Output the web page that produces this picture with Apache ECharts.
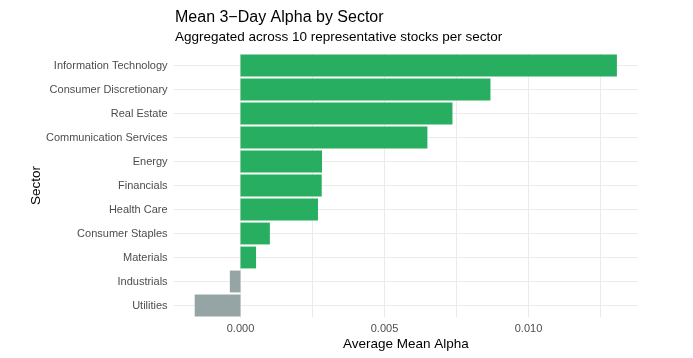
<!DOCTYPE html>
<html>
<head>
<meta charset="utf-8">
<script src="https://cdn.jsdelivr.net/npm/echarts@6/dist/echarts.min.js"></script>
<style>
  html, body { margin: 0; padding: 0; background: #ffffff; }
  #chart { width: 693px; height: 358px; }
</style>
</head>
<body>
<div id="chart"></div>
<script>
const sectors = [
  "Information Technology",
  "Consumer Discretionary",
  "Real Estate",
  "Communication Services",
  "Energy",
  "Financials",
  "Health Care",
  "Consumer Staples",
  "Materials",
  "Industrials",
  "Utilities"
];
const meanAlpha = [0.01307, 0.00868, 0.00736, 0.00649, 0.00283, 0.00282, 0.00269, 0.00102, 0.00054, -0.00037, -0.00159];
const majorTicks = [0, 0.005, 0.010];
const minorTicks = [0.0025, 0.0075, 0.0125];

const titleText = "Mean 3\u2212Day Alpha by Sector";
const subtitleText = "Aggregated across 10 representative stocks per sector";
const xTitle = "Average Mean Alpha";
const yTitle = "Sector";

const posColor = "#27AE60";
const negColor = "#95A5A6";
const gridColor = "#EBEBEB";
const FONT = "Liberation Sans, Arial, Helvetica, sans-serif";

const dMin = Math.min(0, ...meanAlpha), dMax = Math.max(0, ...meanAlpha);
const pad = (dMax - dMin) * 0.05;
const xMin = dMin - pad, xMax = dMax + pad;

const chart = echarts.init(document.getElementById('chart'), null, { renderer: 'canvas' });

const vLines = [];
majorTicks.forEach(v => vLines.push({ xAxis: v }));
minorTicks.forEach(v => vLines.push({ xAxis: v }));
const hLines = sectors.map(s => ({ yAxis: s }));

chart.setOption({
  animation: false,
  backgroundColor: '#ffffff',
  textStyle: { fontFamily: FONT },
  title: [
    { text: titleText, left: 175, top: 10, padding: 0, textStyle: { fontFamily: FONT, fontSize: 16, fontWeight: 'normal', color: '#000000' } },
    { text: subtitleText, left: 175, top: 30, padding: 0, textStyle: { fontFamily: FONT, fontSize: 13.5, fontWeight: 'normal', color: '#000000' } }
  ],
  grid: { left: 173.6, width: 464.4, top: 53.5, height: 264, containLabel: false },
  xAxis: {
    type: 'value',
    min: xMin,
    max: xMax,
    splitNumber: 3,
    axisLine: { show: false },
    axisTick: { show: false },
    splitLine: { show: false },
    axisLabel: {
      showMinLabel: false,
      showMaxLabel: false,
      color: '#4D4D4D',
      fontSize: 11,
      fontFamily: FONT,
      margin: 6,
      formatter: v => (Math.abs(v) < 1e-12 ? 0 : v).toFixed(3)
    },
    name: xTitle,
    nameLocation: 'middle',
    nameGap: 20,
    nameMoveOverlap: false,
    nameTextStyle: { color: '#000000', fontSize: 13.5, fontFamily: FONT }
  },
  yAxis: {
    type: 'category',
    data: sectors,
    inverse: true,
    axisLine: { show: false },
    axisTick: { show: false },
    splitLine: { show: false },
    axisLabel: { color: '#4D4D4D', fontSize: 11, fontFamily: FONT, margin: 6 },
    name: yTitle,
    nameLocation: 'middle',
    nameRotate: 90,
    nameGap: 130,
    nameMoveOverlap: false,
    nameTextStyle: { color: '#000000', fontSize: 13.5, fontFamily: FONT }
  },
  series: [
    {
      type: 'line',
      name: 'vgrid',
      data: [],
      silent: true,
      z: 1,
      markLine: { silent: true, precision: 6, symbol: ['none', 'none'], z: 1, label: { show: false }, animation: false,
        lineStyle: { color: gridColor, width: 1, type: 'solid' }, data: vLines }
    },
    {
      type: 'line',
      name: 'hgrid',
      data: [],
      silent: true,
      z: 1,
      markLine: { silent: true, precision: 6, symbol: ['none', 'none'], z: 1, label: { show: false }, animation: false,
        lineStyle: { color: gridColor, width: 1, type: 'solid' }, data: hLines }
    },
    {
      type: 'bar',
      name: 'Mean Alpha',
      z: 3,
      barWidth: '91%',
      data: meanAlpha.map(v => ({ value: v, itemStyle: { color: v >= 0 ? posColor : negColor } }))
    }
  ]
});
</script>
</body>
</html>
